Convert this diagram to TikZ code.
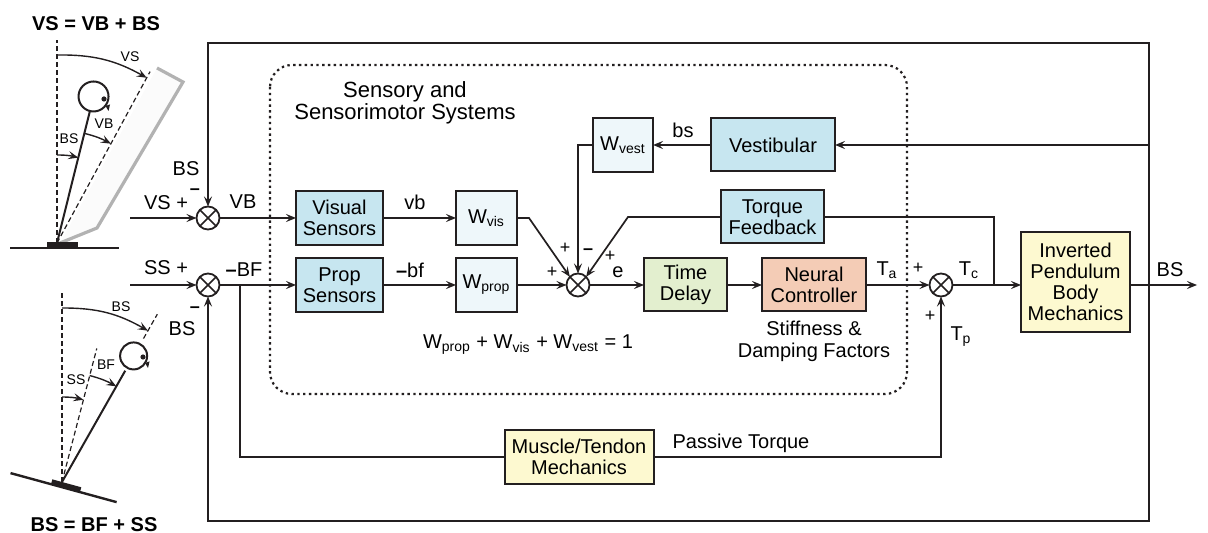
\documentclass[tikz,border=0pt]{standalone}
\usepackage{fontspec}
\setmainfont{Liberation Sans}
\usetikzlibrary{arrows.meta,positioning,calc}

\definecolor{ink}{HTML}{231F20}
\definecolor{sensblue}{HTML}{C7E6F0}
\definecolor{wblue}{HTML}{EEF7FA}
\definecolor{delaygreen}{HTML}{E3EFCF}
\definecolor{neuralred}{HTML}{F4CCB6}
\definecolor{mechyellow}{HTML}{FDF9D0}

\tikzset{
  block/.style={draw=ink, line width=1pt, inner sep=0pt, outer sep=0pt, align=center,
    font=\fontsize{10}{10.6}\selectfont},
  sensor/.style={block, fill=sensblue},
  weight/.style={block, fill=wblue, minimum width=30.5pt, minimum height=27pt},
  sumj/.style={draw=ink, line width=0.9pt, circle, minimum size=11.5pt, inner sep=0pt, outer sep=0pt},
  wire/.style={draw=ink, line width=0.85pt},
  sig/.style={font=\fontsize{10}{11}\selectfont, inner sep=0pt},
  sgn/.style={font=\fontsize{9}{9}\selectfont, inner sep=0pt},
  fig/.style={font=\fontsize{7}{7}\selectfont, inner sep=0pt},
  refline/.style={draw=ink, line width=0.6pt, dash pattern=on 2.5pt off 1.5pt},
  limb/.style={draw=ink, line width=1pt},
  turn/.style={draw=ink, line width=0.7pt, ->},
  >={Stealth[length=5pt,width=4pt,inset=2pt]}
}

\begin{document}
\begin{tikzpicture}[x=0.5pt,y=-0.5pt]
\useasboundingbox (0,0) rectangle (1208,533);

% sensory region
\draw[ink, line width=1.1pt, dash pattern=on 1.2pt off 1.7pt, rounded corners=11pt] (270,65) rectangle (907,394);
\node[font=\fontsize{11}{10.2}\selectfont, align=center, inner sep=0pt] (region) at (405,103) {Sensory and\\Sensorimotor Systems};

% blocks
\node[sumj] (sumv) at (208,218) {};
\node[sumj] (sums) at (208,285) {};
\node[sensor, minimum width=43.5pt, minimum height=27pt] (vissens) at (339.5,218) {Visual\\Sensors};
\node[sensor, minimum width=43.5pt, minimum height=27pt] (propsens) [below=6.5pt of vissens] {Prop\\Sensors};
\node[weight] (wvis) [right=36.5pt of vissens] {W\textsubscript{vis}};
\node[weight] (wprop) [right=36.5pt of propsens] {W\textsubscript{prop}};
\node[sumj] (sum1) at (578,285) {};
\node[block, fill=delaygreen, minimum width=41.5pt, minimum height=26.5pt] (delay) at (685.5,285) {Time\\Delay};
\node[block, fill=neuralred, minimum width=52pt, minimum height=26.5pt] (neural) [right=17.5pt of delay] {Neural\\Controller};
\node[sumj] (sum2) at (941,285) {};
\node[block, fill=mechyellow, minimum width=54.5pt, minimum height=50pt] (body) at (1075.5,282) {Inverted\\Pendulum\\Body\\Mechanics};
\node[weight, minimum width=30pt] (wvest) at (623,145) {W\textsubscript{vest}};
\node[sensor, minimum width=62pt, minimum height=26.5pt] (vest) [right=29pt of wvest] {Vestibular};
\node[sensor, minimum width=51.5pt, minimum height=26.5pt] (torque) at (772.5,217) {Torque\\Feedback};
\node[block, fill=mechyellow, minimum width=74.5pt, minimum height=27pt] (muscle) at (579,457) {Muscle/Tendon\\Mechanics};

\foreach \j in {sumv,sums,sum1,sum2}
  \draw[wire] (\j.north west) -- (\j.south east) (\j.north east) -- (\j.south west);

% corner points of the wiring
\coordinate (vsin) at (130,218);
\coordinate (ssin) at (130,285);
\coordinate (bstap) at (1149,285);
\coordinate (bsout) at (1197,285);
\coordinate (topr) at (1149,43);
\coordinate (botl) at (208,521);
\coordinate (bfsplit) at (240,285);
\coordinate (visbend) at (529,218);
\coordinate (tqbend) at (628,217);
\coordinate (tqdrop) at (994,217);
\coordinate (tqjoin) at (994,285);

% wiring
\draw[wire,->] (vsin) -- (sumv);
\draw[wire,->] (ssin) -- (sums);
\draw[wire,->] (sumv) -- (vissens);
\draw[wire,->] (sums) -- (propsens);
\draw[wire,->] (vissens) -- (wvis);
\draw[wire,->] (propsens) -- (wprop);
\draw[wire,->] (wvis.east) -- (visbend) -- (sum1.north west);
\draw[wire,->] (wprop) -- (sum1);
\draw[wire,->] (vest) -- (wvest);
\draw[wire,->] (wvest.west) -| (sum1.north);
\draw[wire,->] (torque.west) -- (tqbend) -- (sum1.north east);
\draw[wire,->] (sum1) -- (delay);
\draw[wire,->] (delay) -- (neural);
\draw[wire,->] (neural) -- (sum2);
\draw[wire,->] (sum2) -- (body.west |- sum2);
\draw[wire] (torque.east) -- (tqdrop) -- (tqjoin);
\draw[wire,->] (body.east |- bstap) -- (bsout);
\draw[wire,->] (bstap) -- (topr) -| (sumv.north);
\draw[wire,->] (bstap) |- (botl) -- (sums.south);
\draw[wire,->] (bstap |- vest) -- (vest.east);
\draw[wire] (bfsplit) |- (muscle.west);
\draw[wire,->] (muscle.east) -| (sum2.south);

% signal labels
\node[sig] (lvs) at (166,203) {VS +};
\node[sig] (lss) at (166,268) {SS +};
\node[sig] (lbsv) at (186,169) {BS};
\node[sgn] (mv) at (195,192) {\textbf{--}};
\node[sig] (lbss) at (182,329) {BS};
\node[sgn] (ms) at (195,310) {\textbf{--}};
\node[sig] (lvb) at (243,202) {VB};
\node[sig] (lbf) at (244,270) {\textbf{--}BF};
\node[sig] (lvbs) at (415,202) {vb};
\node[sig] (lbfs) at (410,270) {\textbf{--}bf};
\node[sig] (lbs) at (683,130) {bs};
\node[sig] (le) at (618,272) {e};
\node[sgn] (p1) at (565,248) {+};
\node[sgn] (m1) at (588,252) {\textbf{--}};
\node[sgn] (p2) at (610,256) {+};
\node[sgn] (p3) at (552,272) {+};
\node[sgn] (p4) at (918,268) {+};
\node[sgn] (p5) at (930,316) {+};
\node[sig] (lta) at (887,270) {T\textsubscript{a}};
\node[sig] (ltc) at (969,270) {T\textsubscript{c}};
\node[sig] (ltp) at (961,337) {T\textsubscript{p}};
\node[sig] (lbsout) at (1170,270) {BS};
\node[sig] (lsum) at (528,345) {W\textsubscript{prop} + W\textsubscript{vis} + W\textsubscript{vest} = 1};
\node[sig, align=center] (lstiff) at (814,341) {Stiffness \&\\Damping Factors};
\node[sig] (lpass) at (741,443) {Passive Torque};

% visual surround tilt
\node[font=\bfseries\fontsize{10}{10}\selectfont, inner sep=0pt] (ttop) at (96,24) {VS = VB + BS};
\coordinate (pa) at (57,243);
\fill[gray!3] (60,243) -- (157,68) -- (183,82) -- (97,228) -- cycle;
\draw[gray!60, line width=1.6pt] (157,68) -- (183,82) -- (97,228) -- (60,243);
\draw[refline] (pa) -- (57,40);
\draw[refline] (pa) -- ($(pa)+(-61.5:195)$);
\draw[ink, line width=1.2pt] (10,248) -- (119,248);
\fill[ink] (47,242) rectangle (78,247);
\draw[limb] (pa) -- ($(pa)+(-76:136)$);
\draw[limb, fill=white] ($(pa)+(-76:151)$) circle[radius=7.5pt];
\fill[ink] (104,99) circle[radius=1.3pt];
\fill[ink] (105.5,106) -- (110,104.5) -- (108.5,111) -- cycle;
\draw[turn] ($(pa)+(-90:188)$) to[bend left=15] ($(pa)+(-61.5:188)$);
\draw[turn] ($(pa)+(-76:113)$) to[bend left=7] ($(pa)+(-61.5:113)$);
\draw[turn] ($(pa)+(-90:88)$) to[bend left=7] ($(pa)+(-76:88)$);
\node[fig] (fvs) at (130,57) {VS};
\node[fig] (fvb) at (104,124) {VB};
\node[fig] (fbs) at (69,139) {BS};

% support surface tilt
\node[font=\bfseries\fontsize{10}{10}\selectfont, inner sep=0pt] (tbot) at (94,525) {BS = BF + SS};
\coordinate (pb) at (62,482);
\begin{scope}[shift={(62,482)}, rotate=-15.3]
  \draw[ink, line width=1.2pt] (-52,5) -- (58,5);
  \fill[ink] (-10,0) rectangle (20,4.5);
\end{scope}
\draw[refline] (pb) -- (62,293);
\draw[refline] (pb) -- ($(pb)+(-75.4:138)$);
\draw[refline] ($(pb)+(-60.4:165)$) -- ($(pb)+(-60.4:193)$);
\draw[limb] (pb) -- ($(pb)+(-60.4:128)$);
\draw[limb, fill=white] ($(pb)+(-60.4:145)$) circle[radius=6.75pt];
\fill[ink] (143,357) circle[radius=1.3pt];
\fill[ink] (145,363) -- (149.5,361.5) -- (148,368) -- cycle;
\draw[turn] ($(pb)+(-90:174)$) to[bend left=15] ($(pb)+(-60.4:174)$);
\draw[turn] ($(pb)+(-90:85)$) to[bend left=7] ($(pb)+(-75.4:85)$);
\draw[turn] ($(pb)+(-75.4:110)$) to[bend left=7] ($(pb)+(-60.4:110)$);
\node[fig] (fbs2) at (121,307) {BS};
\node[fig] (fss) at (76,380) {SS};
\node[fig] (fbf) at (106,365) {BF};
\end{tikzpicture}
\end{document}
